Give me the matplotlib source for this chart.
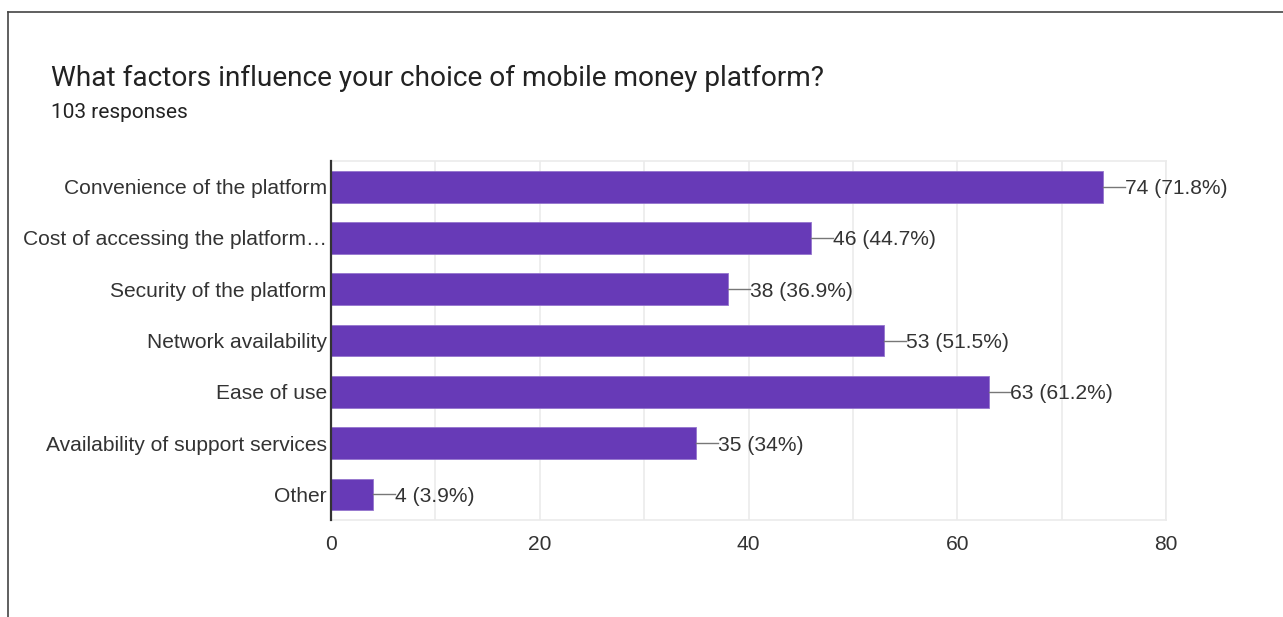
import matplotlib.pyplot as plt
from matplotlib.lines import Line2D

plt.rcParams['font.family'] = ['Liberation Sans', 'DejaVu Sans']

categories = ['Convenience of the platform', 'Cost of accessing the platform…',
              'Security of the platform', 'Network availability', 'Ease of use',
              'Availability of support services', 'Other']
counts = [74, 46, 38, 53, 63, 35, 4]
percents = ['71.8%', '44.7%', '36.9%', '51.5%', '61.2%', '34%', '3.9%']
xticks = [0, 20, 40, 60, 80]

fig = plt.figure(figsize=(12.83, 6.17), dpi=100)
ax = fig.add_axes([0.258, 0.157, 0.6508, 0.582])

ypos = list(range(len(categories)))
ax.barh(ypos, counts, height=0.62, color='#673ab7', edgecolor='#9575cd',
        linewidth=0.6, zorder=3)

# leader line + value label at the end of each bar
for y, c, p in zip(ypos, counts, percents):
    ax.plot([c, c + 2.1], [y, y], color='#777777', lw=1, zorder=3)
    ax.text(c + 2.1, y, f'{c} ({p})', va='center_baseline', ha='left',
            fontsize=15.1, color='#333333')

ax.set_xlim(0, 80)
ax.set_ylim(6.5, -0.5)
ax.set_xticks(xticks)
ax.set_xticks(range(0, 81, 10), minor=True)
ax.set_yticks(ypos)
ax.set_yticklabels(categories, va='center_baseline')
ax.tick_params(axis='both', which='both', length=0, labelsize=15.1,
               labelcolor='#333333')
ax.tick_params(axis='x', which='both', pad=11)
ax.tick_params(axis='y', pad=3)
ax.grid(axis='x', which='both', color='#ebebeb', lw=1.2, zorder=0)

for side in ['top', 'right', 'bottom']:
    ax.spines[side].set_color('#ebebeb')
    ax.spines[side].set_linewidth(1.2)
ax.spines['left'].set_color('#333333')
ax.spines['left'].set_linewidth(1.6)
ax.spines['left'].set_zorder(4)

fig.text(51 / 1283, 1 - 75 / 617, 'What factors influence your choice of mobile money platform?',
         fontsize=20.2, color='#222222', va='center_baseline', ha='left',
         family=['Roboto', 'DejaVu Sans'])
fig.text(51 / 1283, 1 - 111 / 617, '103 responses', fontsize=15,
         color='#222222', va='center_baseline', ha='left',
         family=['Roboto', 'DejaVu Sans'])

# card border along the top and left edges
fig.add_artist(Line2D([8 / 1283, 1], [1 - 12 / 617, 1 - 12 / 617],
                      transform=fig.transFigure, color='#444444', lw=1.2))
fig.add_artist(Line2D([8 / 1283, 8 / 1283], [0, 1 - 12 / 617],
                      transform=fig.transFigure, color='#444444', lw=1.2))

fig.savefig('out.png', dpi=100)
